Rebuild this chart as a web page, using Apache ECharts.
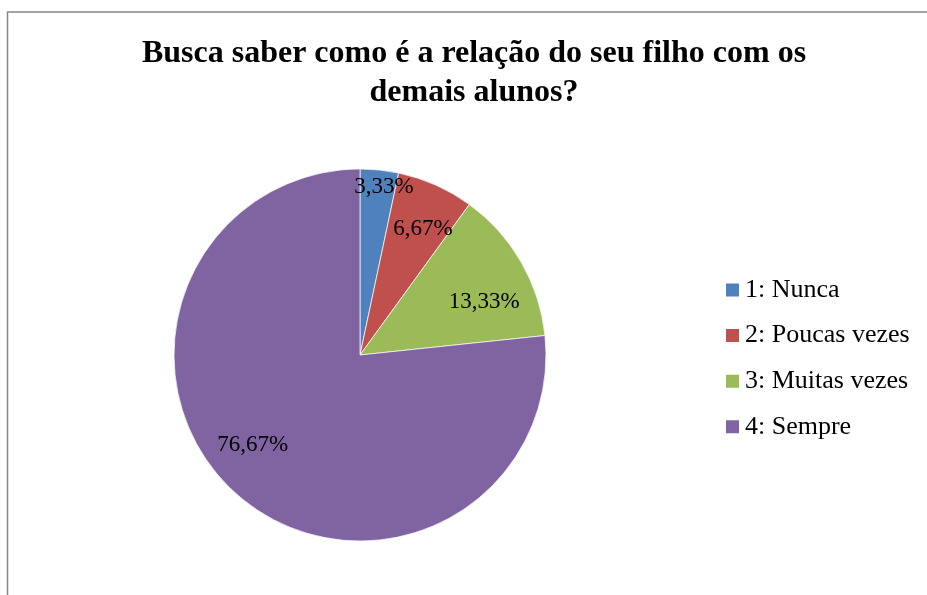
<!DOCTYPE html>
<html>
<head>
<meta charset="utf-8">
<script src="https://cdn.jsdelivr.net/npm/echarts@6/dist/echarts.min.js"></script>
<style>
  html, body { margin: 0; padding: 0; background: #fff; }
  #chart { width: 927px; height: 595px; }
</style>
</head>
<body>
<div id="chart"></div>
<script>
const titleText = "Busca saber como é a relação do seu filho com os\ndemais alunos?";
const categories = ["1: Nunca", "2: Poucas vezes", "3: Muitas vezes", "4: Sempre"];
const values = [3.33, 6.67, 13.33, 76.67];
const labelTexts = ["3,33%", "6,67%", "13,33%", "76,67%"];
const colors = ["#4F81BD", "#C0504D", "#9BBB59", "#8064A2"];
const labelOffsets = [[14, -73], [24, -38], [41, -5], [-43, 19]];

const serif = "'Liberation Serif', 'Times New Roman', serif";
const chart = echarts.init(document.getElementById('chart'), null, { renderer: 'canvas' });

chart.setOption({
  backgroundColor: '#ffffff',
  animation: false,
  color: colors,
  graphic: [{
    type: 'rect',
    shape: { x: 7.5, y: 12, width: 1000, height: 700 },
    style: { fill: 'none', stroke: '#868686', lineWidth: 1.5 },
    silent: true
  }],
  title: {
    text: titleText,
    left: 469,
    textAlign: 'center',
    top: 29,
    textStyle: {
      fontFamily: serif,
      fontWeight: 'bold',
      fontSize: 32,
      lineHeight: 39,
      color: '#000'
    }
  },
  legend: {
    orient: 'vertical',
    left: 719,
    top: 272,
    itemWidth: 15,
    itemHeight: 15,
    itemGap: 19.6,
    icon: 'rect',
    data: categories,
    textStyle: {
      fontFamily: serif,
      fontSize: 26,
      color: '#000',
      padding: [0, 0, 0, 0]
    }
  },
  series: [{
    type: 'pie',
    center: [360, 355],
    radius: [0, 186],
    startAngle: 90,
    clockwise: true,
    avoidLabelOverlap: false,
    itemStyle: { borderColor: '#ffffff', borderWidth: 0.7 },
    label: {
      show: true,
      position: 'inside',
      fontFamily: serif,
      fontSize: 23,
      color: '#000',
      formatter: function (p) { return labelTexts[p.dataIndex]; }
    },
    labelLine: { show: false },
    labelLayout: function (p) {
      const o = labelOffsets[p.dataIndex];
      return { dx: o[0], dy: o[1] };
    },
    emphasis: { disabled: true },
    data: categories.map(function (c, i) { return { name: c, value: values[i] }; })
  }]
});
</script>
</body>
</html>
